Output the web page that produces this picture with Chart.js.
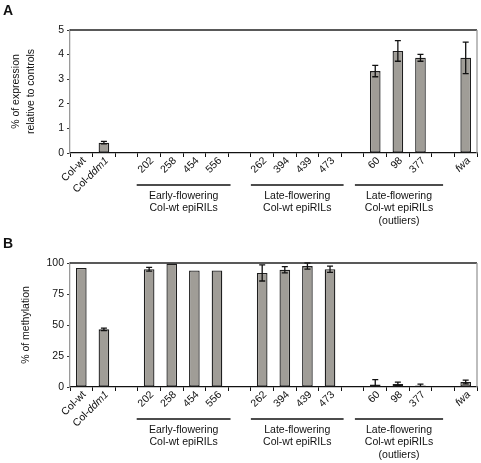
<!DOCTYPE html>
<html>
<head>
<meta charset="utf-8">
<script src="https://cdn.jsdelivr.net/npm/chart.js@4"></script>
<style>
  html, body { margin: 0; padding: 0; background: #fff; }
  .panel { position: absolute; left: 0; width: 481px; }
  #panelA { top: 0; height: 230px; }
  #panelB { top: 230px; height: 233px; }
</style>
</head>
<body>
<div class="panel" id="panelA"><canvas id="chartA"></canvas></div>
<div class="panel" id="panelB"><canvas id="chartB"></canvas></div>
<script>
// categories ('' = spacer between groups)
const categories = ['Col-wt', 'Col-ddm1', '', '202', '258', '454', '556', '', '262', '394', '439', '473', '', '60', '98', '377', '', 'fwa'];
// parts of labels set in italics
const italicParts = { 'Col-ddm1': 'ddm1', 'fwa': 'fwa' };

// panel A: % of expression relative to controls
const expression = [0.04, 0.42, null, 0, 0, 0, 0, null, 0, 0.02, 0, 0.02, null, 3.33, 4.15, 3.87, null, 3.87];
const expressionErr = [0, 0.05, null, 0, 0, 0, 0, null, 0, 0, 0, 0, null, 0.23, 0.42, 0.14, null, 0.64];
const expressionTicks = [0, 1, 2, 3, 4, 5];

// panel B: % of methylation
const methylation = [96, 46.5, null, 95, 99.5, 94, 94, null, 92, 94.5, 97.5, 95, null, 2, 2.5, 1.3, null, 4];
const methylationErr = [0, 1, null, 1.5, 0, 0, 0, null, 6.5, 2.5, 2.5, 2.5, null, 4, 1.5, 1, null, 1.5];
const methylationTicks = [0, 25, 50, 75, 100];

// groups under the axis: [start, end] in category units, text lines
const groups = [
    { from: 2.45, to: 6.6, lines: ['Early-flowering', 'Col-wt epiRILs'] },
    { from: 7.5, to: 11.6, lines: ['Late-flowering', 'Col-wt epiRILs'] },
    { from: 12.1, to: 16.0, lines: ['Late-flowering', 'Col-wt epiRILs', '(outliers)'] }
];

const FONT = '"Liberation Sans", Arial, sans-serif';
Chart.defaults.font.family = FONT;
Chart.defaults.font.size = 10.5;
Chart.defaults.color = '#111';

const decorations = {
    id: 'decorations',
    afterDatasetsDraw(chart, args, opts) {
        const ctx = chart.ctx;
        const x = chart.scales.x, y = chart.scales.y;
        const area = chart.chartArea;
        // error bars
        ctx.save();
        ctx.beginPath();
        ctx.rect(area.left, area.top - 10, area.right - area.left, area.bottom - area.top + 10);
        ctx.clip();
        ctx.strokeStyle = '#111';
        ctx.lineWidth = 1.3;
        opts.values.forEach((v, i) => {
            const e = opts.errors[i];
            if (v == null || !e) return;
            const cx = x.getPixelForValue(i);
            const top = y.getPixelForValue(v + e);
            const bot = y.getPixelForValue(v - e);
            ctx.beginPath();
            ctx.moveTo(cx, top); ctx.lineTo(cx, bot);
            ctx.moveTo(cx - 3, top); ctx.lineTo(cx + 3, top);
            ctx.moveTo(cx - 3, bot); ctx.lineTo(cx + 3, bot);
            ctx.stroke();
        });
        ctx.restore();
    },
    afterDraw(chart, args, opts) {
        const ctx = chart.ctx;
        const x = chart.scales.x;
        const area = chart.chartArea;
        ctx.save();
        // frame: top dark, right light
        ctx.lineWidth = 1.3;
        ctx.strokeStyle = '#222';
        ctx.beginPath();
        ctx.moveTo(area.left, area.top); ctx.lineTo(area.right, area.top);
        ctx.stroke();
        ctx.strokeStyle = '#9a9a9a';
        ctx.beginPath();
        ctx.moveTo(area.right, area.top); ctx.lineTo(area.right, area.bottom);
        ctx.stroke();

        // rotated category labels
        const size = 10.5;
        ctx.fillStyle = '#111';
        ctx.textBaseline = 'middle';
        categories.forEach((lab, i) => {
            if (!lab) return;
            const cx = x.getPixelForValue(i);
            ctx.save();
            ctx.translate(cx + 3, area.bottom + 6);
            ctx.rotate(-Math.PI / 4);
            const it = italicParts[lab];
            const plain = it ? lab.slice(0, lab.length - it.length) : lab;
            ctx.textAlign = 'left';
            ctx.font = size + 'px ' + FONT;
            const wPlain = ctx.measureText(plain).width;
            ctx.font = 'italic ' + size + 'px ' + FONT;
            const wIt = it ? ctx.measureText(it).width : 0;
            const total = wPlain + wIt;
            ctx.font = size + 'px ' + FONT;
            ctx.fillText(plain, -total, 0);
            if (it) {
                ctx.font = 'italic ' + size + 'px ' + FONT;
                ctx.fillText(it, -total + wPlain, 0);
            }
            ctx.restore();
        });

        // group lines and names
        const unit = x.getPixelForValue(1) - x.getPixelForValue(0);
        const at = u => x.getPixelForValue(0) + u * unit;
        ctx.font = size + 'px ' + FONT;
        ctx.textAlign = 'center';
        ctx.strokeStyle = '#111';
        ctx.lineWidth = 1.3;
        groups.forEach(g => {
            const x0 = at(g.from), x1 = at(g.to);
            const ly = area.bottom + 32;
            ctx.beginPath();
            ctx.moveTo(x0, ly); ctx.lineTo(x1, ly);
            ctx.stroke();
            g.lines.forEach((t, k) => ctx.fillText(t, (x0 + x1) / 2, ly + 11 + k * 12.5));
        });

        // y axis title
        ctx.save();
        ctx.translate(0, (area.top + area.bottom) / 2);
        ctx.rotate(-Math.PI / 2);
        opts.title.forEach((t, k) => ctx.fillText(t, 0, opts.titleX[k]));
        ctx.restore();

        // panel letter
        ctx.font = 'bold 14px ' + FONT;
        ctx.textAlign = 'left';
        ctx.textBaseline = 'alphabetic';
        ctx.fillText(opts.letter, 3, opts.letterY);
        ctx.restore();
    }
};

function makeChart(id, values, errors, ticks, top, xHeight, title, titleX, letter, letterY) {
    return new Chart(document.getElementById(id), {
        type: 'bar',
        data: {
            labels: categories,
            datasets: [{
                data: values,
                backgroundColor: '#a09d97',
                borderColor: '#1e1e1e',
                borderWidth: 1.3,
                borderSkipped: false,
                barPercentage: 0.47,
                categoryPercentage: 1
            }]
        },
        options: {
            responsive: true,
            maintainAspectRatio: false,
            animation: false,
            layout: { padding: { left: 0, right: 4, top: top, bottom: 0 } },
            plugins: {
                legend: { display: false },
                tooltip: { enabled: false },
                decorations: { values, errors, title, titleX, letter, letterY }
            },
            scales: {
                x: {
                    ticks: { display: false },
                    grid: { drawOnChartArea: false, tickLength: 4, color: '#111', lineWidth: 1 },
                    border: { color: '#111', width: 1.3 },
                    afterFit: s => { s.height = xHeight; }
                },
                y: {
                    min: ticks[0],
                    max: ticks[ticks.length - 1],
                    afterBuildTicks: s => { s.ticks = ticks.map(v => ({ value: v })); },
                    ticks: { padding: 3, color: '#111', font: { size: 10.5 } },
                    grid: { drawOnChartArea: false, tickLength: 3, color: '#333' },
                    border: { color: '#9a9a9a', width: 1.3 },
                    afterFit: s => { s.width = 70; }
                }
            }
        },
        plugins: [decorations]
    });
}

makeChart('chartA', expression, expressionErr, expressionTicks, 30, 77,
    ['% of expression', 'relative to controls'], [16, 31], 'A', 15);
makeChart('chartB', methylation, methylationErr, methylationTicks, 33, 76,
    ['% of methylation'], [26], 'B', 18);
</script>
</body>
</html>
